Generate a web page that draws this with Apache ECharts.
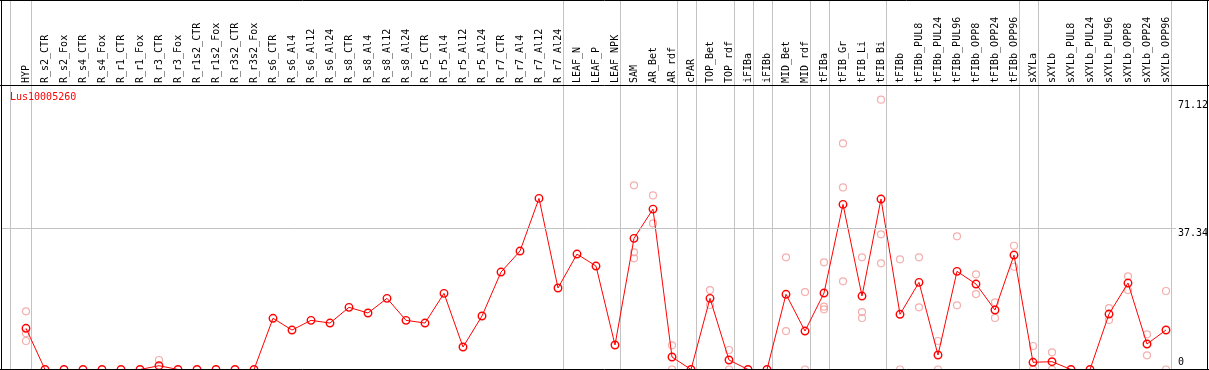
<!DOCTYPE html>
<html><head><meta charset="utf-8">
<script src="https://cdn.jsdelivr.net/npm/echarts@6/dist/echarts.min.js"></script>
<style>html,body{margin:0;padding:0;background:#fff}#c{width:1209px;height:370px}</style>
</head><body><div id="c"></div>
<script>
const seriesName = 'Lus10005260';
const categories = ['HYP','R_s2_CTR','R_s2_Fox','R_s4_CTR','R_s4_Fox','R_r1_CTR','R_r1_Fox','R_r3_CTR','R_r3_Fox','R_r1s2_CTR',
  'R_r1s2_Fox','R_r3s2_CTR','R_r3s2_Fox','R_s6_CTR','R_s6_Al4','R_s6_Al12','R_s6_Al24','R_s8_CTR','R_s8_Al4','R_s8_Al12',
  'R_s8_Al24','R_r5_CTR','R_r5_Al4','R_r5_Al12','R_r5_Al24','R_r7_CTR','R_r7_Al4','R_r7_Al12','R_r7_Al24','LEAF_N',
  'LEAF_P','LEAF_NPK','SAM','AR_Bet','AR_rdf','cPAR','TOP_Bet','TOP_rdf','iFIBa','iFIBb',
  'MID_Bet','MID_rdf','tFIBa','tFIB_Gr','tFIB_Li','tFIB_Bi','tFIBb','tFIBb_PUL8','tFIBb_PUL24','tFIBb_PUL96',
  'tFIBb_OPP8','tFIBb_OPP24','tFIBb_OPP96','sXYLa','sXYLb','sXYLb_PUL8','sXYLb_PUL24','sXYLb_PUL96','sXYLb_OPP8','sXYLb_OPP24',
  'sXYLb_OPP96'];
const meanValues = [10.86, 0, 0, 0, 0, 0, 0, 1.0, 0, 0,
  0, 0, 0, 13.5, 10.4, 12.96, 12.25, 16.39, 14.89, 18.76,
  12.96, 12.25, 20.08, 5.93, 14.1, 25.69, 31.23, 45.11, 21.48, 30.43,
  27.27, 6.46, 34.57, 42.29, 3.29, 0, 18.76, 2.5, 0, 0,
  19.82, 10.14, 20.16, 43.53, 19.37, 44.93, 14.55, 22.98, 3.82, 25.88,
  22.53, 15.68, 30.17, 1.9, 2.06, 0, 0, 14.62, 22.79, 6.72,
  10.41];
const rep1 = [15.34, null, null, null, null, null, null, 2.5, null, null,
  null, null, null, null, null, null, null, null, null, null,
  null, null, null, null, null, null, null, null, null, null,
  null, null, 48.54, 45.9, 6.38, null, 20.95, 5.14, null, null,
  29.57, 20.42, 28.25, 59.6, 29.57, 71.12, 29.04, 29.57, 7.51, 35.1,
  25.09, 17.71, 32.62, 6.19, 4.53, null, null, 16.2, 24.56, 9.28,
  20.69];
const rep2 = [9.54, null, null, null, null, null, null, null, null, null,
  null, null, null, null, null, null, null, null, null, null,
  null, null, null, null, null, null, null, null, null, null,
  null, null, 30.88, 38.52, 0, null, 17.0, 0, null, null,
  10.14, 0, 16.55, 48.0, 15.15, 35.63, 0, 16.39, 0, 16.92,
  19.89, 13.57, 27.09, 0, 0, null, null, 13.04, 20.95, 3.74,
  0];
const rep3 = [7.51, null, null, null, null, null, null, null, null, null,
  null, null, null, null, null, null, null, null, null, null,
  null, null, null, null, null, null, null, null, null, null,
  null, null, 29.3, null, null, null, null, null, null, null,
  null, null, 15.86, 23.24, 13.57, 27.98, null, null, null, null,
  null, null, null, null, null, null, null, null, null, null,
  null];
const yTickLabels = [0, 37.34, 71.12];
const gridLineValues = [37.34];
const groupSizes = [1, 28, 3, 3, 1, 2, 1, 1, 2, 1, 3, 7, 1, 7];

const FONT = '"DejaVu Sans Mono", monospace';
const chart = echarts.init(document.getElementById('c'), null, {renderer: 'canvas'});
const idx = categories.map((_, i) => i);
const repData = [];
[rep1, rep2, rep3].forEach(r => r.forEach((v, i) => { if (v !== null) repData.push([i, v]); }));
const sepOffset = 0.24;
const sepData = [[-1 + 0.15, 0]];
let cum = 0;
groupSizes.forEach(g => { cum += g; sepData.push([cum - 1 + sepOffset, 0]); });

const option = {
  animation: false,
  grid: {left: 1, right: 33, top: 85, bottom: 0.5, containLabel: false},
  xAxis: {
    type: 'value', min: -1.3158, max: 60.5263, position: 'top',
    axisLine: {show: false}, axisTick: {show: false}, splitLine: {show: false},
    axisLabel: {customValues: idx, formatter: v => categories[Math.round(v)] || '', rotate: 90, margin: 2,
      fontFamily: FONT, fontSize: 10, color: '#000'}
  },
  yAxis: {type: 'value', min: 0, max: 75, show: false},
  series: [
    {
      type: 'custom', name: 'separators', data: sepData, clip: false, silent: true, z: 1,
      renderItem: (params, api) => {
        const x = Math.round(api.coord([api.value(0), 0])[0]) + 0.5;
        return {type: 'line', shape: {x1: x, y1: 0, x2: x, y2: api.getHeight()},
          style: {stroke: '#c3c3c3', lineWidth: 1}};
      },
      markLine: {silent: true, symbol: 'none', label: {show: false}, animation: false,
        lineStyle: {color: '#c3c3c3', width: 1, type: 'solid'},
        data: gridLineValues.map(v => ({yAxis: v}))}
    },
    {
      type: 'scatter', name: 'replicates', data: repData, symbol: 'circle', symbolSize: 7, clip: false, z: 2,
      itemStyle: {color: 'rgba(0,0,0,0)', borderColor: '#f29a9a', borderWidth: 1.2}
    },
    {
      type: 'line', name: seriesName, data: meanValues.map((v, i) => [i, v]), symbol: 'circle', symbolSize: 7.5,
      showAllSymbol: true, clip: false, z: 3,
      itemStyle: {color: 'rgba(0,0,0,0)', borderColor: '#ff0000', borderWidth: 1.4},
      lineStyle: {color: '#ff0000', width: 1}
    }
  ]
};
chart.setOption(option);

const frame = [
  [0, 0.5, 1209, 0.5], [0, 85.5, 1209, 85.5], [0, 369.5, 1209, 369.5],
  [1.5, 0, 1.5, 370], [1207.5, 0, 1207.5, 370]
].map(p => ({type: 'line', z: 100, silent: true, shape: {x1: p[0], y1: p[1], x2: p[2], y2: p[3]},
  style: {stroke: '#000', lineWidth: 1}}));
const yLabels = yTickLabels.map(v => {
  const py = chart.convertToPixel({yAxisIndex: 0}, v);
  return {type: 'text', z: 101, silent: true, x: 1178, y: v === 0 ? py - 2 : py + 1,
    style: {text: String(v), font: '10px ' + FONT, fill: '#000', align: 'left', verticalAlign: v === 0 ? 'bottom' : 'top'}};
});
const title = {type: 'text', z: 101, silent: true, x: 10, y: 97,
  style: {text: seriesName, font: '10px ' + FONT, fill: '#ff0000', align: 'left', verticalAlign: 'middle'}};
chart.setOption({graphic: frame.concat(yLabels, [title])});
</script>
</body></html>
